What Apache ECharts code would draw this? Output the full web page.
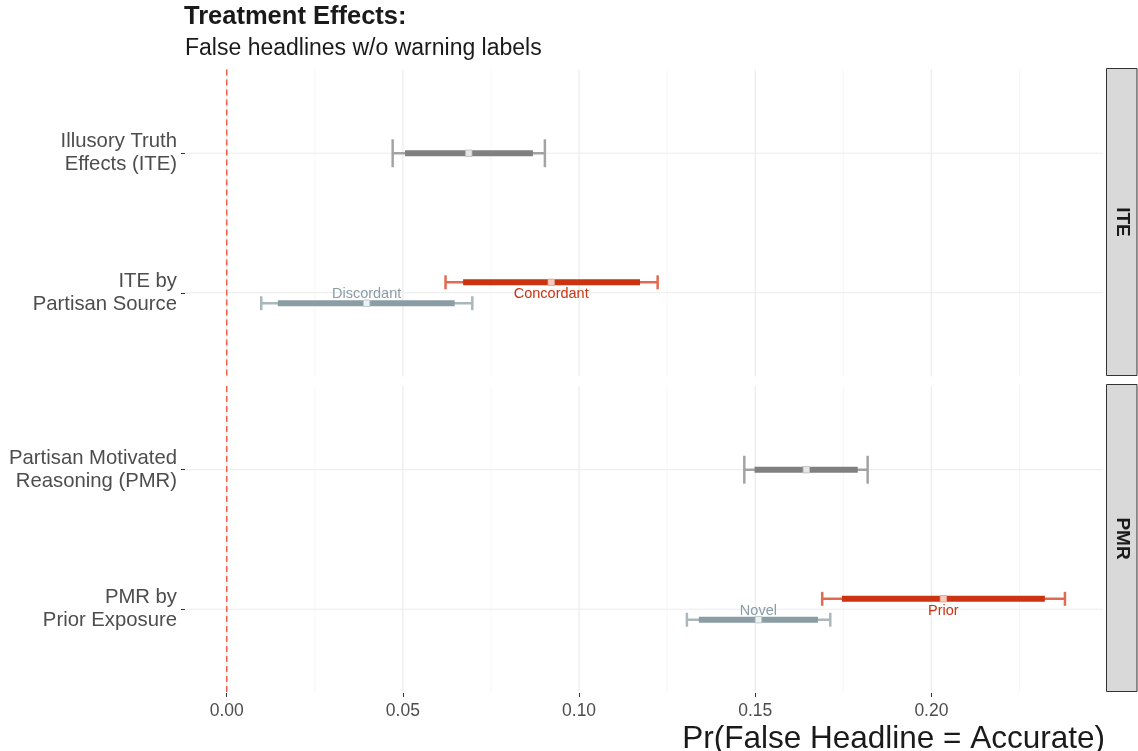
<!DOCTYPE html>
<html>
<head>
<meta charset="utf-8">
<script src="https://cdn.jsdelivr.net/npm/echarts@6/dist/echarts.min.js"></script>
<style>html,body{margin:0;padding:0;background:#fff;}#c{width:1138px;height:751px;}</style>
</head>
<body>
<div id="c"></div>
<script>
// ---- data ----
const panels = ['ITE', 'PMR'];
const rowLabelsITE = ['ITE by\nPartisan Source', 'Illusory Truth\nEffects (ITE)'];   // rows 1, 2
const rowLabelsPMR = ['PMR by\nPrior Exposure', 'Partisan Motivated\nReasoning (PMR)'];
const rowValues = [1, 2];
const xTicks = [0, 0.05, 0.10, 0.15, 0.20];
const xMinorGrid = [0.025, 0.075, 0.125, 0.175, 0.225];
const refLine = 0;

const estPanel  = ['ITE', 'ITE', 'ITE', 'PMR', 'PMR', 'PMR'];
const estRow    = [2, 1, 1, 2, 1, 1];
const estGroup  = ['Overall', 'Concordant', 'Discordant', 'Overall', 'Prior', 'Novel'];
const estPoint  = [0.0687, 0.0921, 0.0397, 0.1645, 0.2034, 0.1509];
const outerLo   = [0.0471, 0.0621, 0.0098, 0.1469, 0.1690, 0.1306];
const outerHi   = [0.0903, 0.1223, 0.0697, 0.1819, 0.2379, 0.1713];
const innerLo   = [0.0506, 0.0671, 0.0145, 0.1498, 0.1746, 0.1340];
const innerHi   = [0.0869, 0.1173, 0.0647, 0.1791, 0.2322, 0.1678];

// ---- styling ----
const X_MIN = -0.01184, X_MAX = 0.2487;
const FONT = '"Liberation Sans", Arial, sans-serif';
const groupStyle = {
  Overall:    {dodge: 0,  cap: 0.1,  thick: '#808080', thin: '#a3a3a3', fill: '#e6e6e6', stroke: '#bdbdbd', label: null},
  Concordant: {dodge: 1,  cap: 0.05, thick: '#cc3311', thin: '#e26a50', fill: '#f4cbbf', stroke: '#e8a08c', label: '#cc3311'},
  Prior:      {dodge: 1,  cap: 0.05, thick: '#cc3311', thin: '#e26a50', fill: '#f4cbbf', stroke: '#e8a08c', label: '#cc3311'},
  Discordant: {dodge: -1, cap: 0.05, thick: '#8a9da5', thin: '#aab8bd', fill: '#eef1f2', stroke: '#b8c4c9', label: '#8a9da5'},
  Novel:      {dodge: -1, cap: 0.05, thick: '#8a9da5', thin: '#aab8bd', fill: '#eef1f2', stroke: '#b8c4c9', label: '#8a9da5'}
};
const DODGE = 0.075;

const chart = echarts.init(document.getElementById('c'), null, {renderer: 'canvas'});

function renderEstimate(params, api) {
  const idx = api.value(6);
  const g = groupStyle[estGroup[idx]];
  const row = api.value(0);
  const yc = row + g.dodge * DODGE;
  const pLo = api.coord([api.value(1), yc]);
  const pHi = api.coord([api.value(2), yc]);
  const iLo = api.coord([api.value(3), yc]);
  const iHi = api.coord([api.value(4), yc]);
  const pt = api.coord([api.value(5), yc]);
  const capTop = api.coord([api.value(1), yc + g.cap])[1];
  const capBot = api.coord([api.value(1), yc - g.cap])[1];
  const children = [
    {type: 'line', shape: {x1: pLo[0], y1: pLo[1], x2: pHi[0], y2: pHi[1]}, style: {stroke: g.thin, lineWidth: 2.5}},
    {type: 'line', shape: {x1: pLo[0], y1: capTop, x2: pLo[0], y2: capBot}, style: {stroke: g.thin, lineWidth: 2.5}},
    {type: 'line', shape: {x1: pHi[0], y1: capTop, x2: pHi[0], y2: capBot}, style: {stroke: g.thin, lineWidth: 2.5}},
    {type: 'line', shape: {x1: iLo[0], y1: iLo[1], x2: iHi[0], y2: iHi[1]}, style: {stroke: g.thick, lineWidth: 6, lineCap: 'butt'}},
    {type: 'rect', shape: {x: pt[0] - 3.2, y: pt[1] - 3.2, width: 6.4, height: 6.4}, style: {fill: g.fill, stroke: g.stroke, lineWidth: 0.8}}
  ];
  if (g.label) {
    const lp = api.coord([api.value(5), row]);
    children.push({type: 'text', x: lp[0], y: lp[1] + 1.5, style: {text: estGroup[idx], fill: g.label, stroke: 'transparent', lineWidth: 0,
      font: '14.5px ' + FONT, align: 'center', verticalAlign: 'middle'}});
  }
  return {type: 'group', children: children};
}

// kind: 0 = major x, 1 = minor x, 2 = major y, 3 = reference dashed
function renderGrid(params, api) {
  const cs = params.coordSys;
  const kind = api.value(1);
  const v = api.value(0);
  if (kind === 2) {
    const y = api.coord([X_MIN, v])[1];
    return {type: 'line', shape: {x1: cs.x, y1: y, x2: cs.x + cs.width, y2: y}, style: {stroke: '#ebebeb', lineWidth: 1.2}};
  }
  const x = api.coord([v, 1])[0];
  const style = kind === 0 ? {stroke: '#ebebeb', lineWidth: 1.2}
    : kind === 1 ? {stroke: '#f4f4f4', lineWidth: 0.8}
    : {stroke: '#f0604a', lineWidth: 1.5, lineDash: [6, 4]};
  return {type: 'line', shape: {x1: x, y1: cs.y, x2: x, y2: cs.y + cs.height}, style: style};
}

const grids = [
  {left: 185, right: 35, top: 69.5, height: 307},
  {left: 185, right: 35, top: 386, height: 307}
];
const xAxes = [], yAxes = [], series = [];
panels.forEach((p, i) => {
  const isBottom = i === panels.length - 1;
  const labels = p === 'ITE' ? rowLabelsITE : rowLabelsPMR;
  xAxes.push({
    gridIndex: i, type: 'value', min: X_MIN, max: X_MAX,
    axisLine: {show: false, onZero: false}, splitLine: {show: false},
    axisTick: {show: isBottom, customValues: xTicks, length: 4, lineStyle: {color: '#333333', width: 1}},
    axisLabel: {show: isBottom, customValues: xTicks, formatter: v => v.toFixed(2), margin: 9,
      color: '#4d4d4d', fontSize: 17.5, fontFamily: FONT}
  });
  yAxes.push({
    gridIndex: i, type: 'value', min: 0.4, max: 2.6, position: 'left',
    axisLine: {show: false, onZero: false}, splitLine: {show: false},
    axisTick: {show: true, customValues: rowValues, length: 4, lineStyle: {color: '#333333', width: 1}},
    axisLabel: {customValues: rowValues, formatter: v => labels[Math.round(v) - 1], margin: 8, align: 'right',
      color: '#4d4d4d', fontSize: 20.3, lineHeight: 23, padding: [5, 0, 0, 0], fontFamily: FONT}
  });
  const gridData = [];
  xMinorGrid.forEach(v => gridData.push([v, 1]));
  xTicks.forEach(v => gridData.push([v, 0]));
  rowValues.forEach(v => gridData.push([v, 2]));
  gridData.push([refLine, 3]);
  series.push({
    type: 'custom', xAxisIndex: i, yAxisIndex: i, z: 1, silent: true, animation: false,
    renderItem: renderGrid, data: gridData, encode: {x: -1, y: -1}
  });
  const data = [];
  estPanel.forEach((pp, k) => {
    if (pp === p) data.push([estRow[k], outerLo[k], outerHi[k], innerLo[k], innerHi[k], estPoint[k], k]);
  });
  series.push({
    type: 'custom', xAxisIndex: i, yAxisIndex: i, z: 3, animation: false, silent: true,
    renderItem: renderEstimate, data: data,
    encode: {x: [1, 2, 3, 4, 5], y: 0}
  });
});

const stripGraphics = [];
panels.forEach((p, i) => {
  const g = grids[i];
  stripGraphics.push({type: 'rect', shape: {x: 1106.5, y: Math.round(g.top) - 1.5, width: 30.5, height: g.height}, style: {fill: '#d9d9d9', stroke: '#333333', lineWidth: 1}});
  stripGraphics.push({type: 'text', x: 1122, y: g.top + g.height / 2 - 1, rotation: -Math.PI / 2,
    style: {text: p, fill: '#1a1a1a', font: 'bold 19px ' + FONT, align: 'center', verticalAlign: 'middle'}});
});

chart.setOption({
  animation: false,
  backgroundColor: '#ffffff',
  grid: grids,
  xAxis: xAxes,
  yAxis: yAxes,
  series: series,
  graphic: stripGraphics.concat([
    {type: 'text', x: 184, y: 17, style: {text: 'Treatment Effects:', fill: '#1a1a1a', font: 'bold 25.5px ' + FONT, align: 'left', verticalAlign: 'middle'}},
    {type: 'text', x: 185, y: 49, style: {text: 'False headlines w/o warning labels', fill: '#1a1a1a', font: '23px ' + FONT, align: 'left', verticalAlign: 'middle'}},
    {type: 'text', x: 1105, y: 739, style: {text: 'Pr(False Headline = Accurate)', fill: '#1a1a1a', font: '31.5px ' + FONT, align: 'right', verticalAlign: 'middle'}}
  ])
});
</script>
</body>
</html>
